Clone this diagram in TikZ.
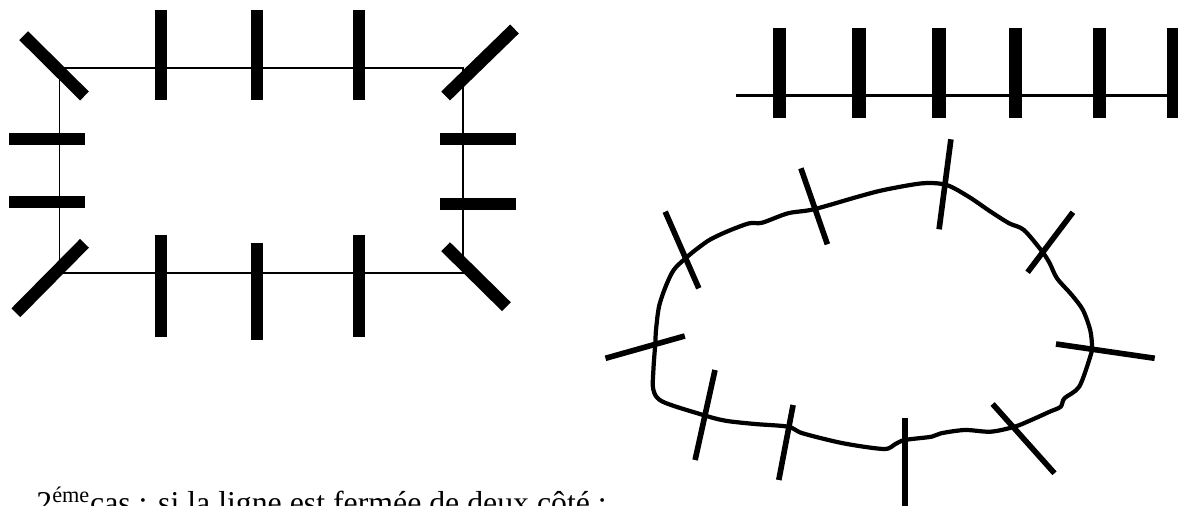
\documentclass[tikz,border=0pt]{standalone}
\usepackage{fontspec}
\setmainfont{Liberation Serif}
\usepackage{tikz}
\usetikzlibrary{calc}
\tikzset{
  % Frame lines
  frameline/.style={draw=black,line width=0.85pt},
  railline/.style={draw=black,line width=1.5pt},
  blobline/.style={draw=black,line width=2.4pt,line join=round},
  % Cross marks
  heavytick/.style={draw=black,line width=7.1pt},
  railtick/.style={draw=black,line width=7.7pt},
  lighttick/.style={draw=black,line width=3.2pt},
  % Caption
  captxt/.style={font=\fontsize{18.1}{21}\selectfont,inner sep=0pt,anchor=base west}
}
\begin{document}
\begin{tikzpicture}[x=0.02cm,y=-0.02cm]
  \useasboundingbox (0,0) rectangle (1178,506);
  \clip (0,0) rectangle (1178,506);

  % Rectangle with heavy marks
  \draw[frameline] (59.5,68) rectangle (463,273);
  \foreach \xx in {161,257,359} {
    \draw[heavytick] (\xx,10) -- (\xx,100);
  }
  \draw[heavytick] (161,235) -- (161,337);
  \draw[heavytick] (257,243) -- (257,340);
  \draw[heavytick] (359,235) -- (359,337);
  \foreach \yy in {139,202} {
    \draw[heavytick] (9,\yy) -- (84.5,\yy);
  }
  \draw[heavytick] (439.5,139) -- (515.5,139);
  \draw[heavytick] (439.5,204) -- (515.5,204);
  \draw[heavytick] (23.7,35.7) -- (84.5,96);
  \draw[heavytick] (445.6,96) -- (514.5,29);
  \draw[heavytick] (15.9,312.7) -- (84.5,243.3);
  \draw[heavytick] (445.6,246.7) -- (506.4,306.7);

  % Straight line with marks
  \draw[railline] (735.6,95.3) -- (1178,95.3);
  \foreach \xx in {779.5,859,939,1015.4,1099.4,1174} {
    \draw[railtick] (\xx,28.3) -- (\xx,118.3);
  }

  % Closed irregular line
  \draw[blobline] plot[smooth cycle,tension=0.5] coordinates {
    (946.5,185) (922.5,183.3) (883.8,190) (858,196.7) (813.8,209.3)
    (788,213.3) (762.2,222.7) (749.3,223.3) (729,230.7) (710.6,239.3)
    (697.7,248.3) (685.5,258.3) (673.7,270) (665.6,286.7) (659,306.7)
    (656,330) (655.3,343.3) (653.4,370) (653.4,390) (662.7,401.7)
    (703.2,415) (725.3,420.7) (754.8,424) (788,426.7) (802.7,433.3)
    (843.3,443.3) (883.8,449) (894.9,444.3) (904.8,440) (931.7,436.7)
    (941,433.3) (965,430) (990.7,431.7) (1014.7,426.7) (1031.3,420)
    (1049.7,411.7) (1060.7,406.7) (1064.4,398.3) (1079.2,386.7)
    (1090.2,356.7) (1092,346.7) (1090.2,330) (1082.9,310) (1071.8,295)
    (1057,278.3) (1049.7,263.3) (1042.3,251.7) (1023.9,230)
    (1009.1,223.3) (990.7,211.7) (968.6,196.7)};
  \draw[lighttick] (950.9,139.3) -- (939.1,229.3);
  \draw[lighttick] (800.9,168.3) -- (827.4,244.3);
  \draw[lighttick] (665.2,211.7) -- (698.8,288.3);
  \draw[lighttick] (1072.9,212.3) -- (1027.6,272.3);
  \draw[lighttick] (605.5,358.3) -- (684.8,336);
  \draw[lighttick] (1056,344) -- (1154.7,358.3);
  \draw[lighttick] (715,370) -- (695.1,460);
  \draw[lighttick] (793.1,405) -- (778.8,480);
  \draw[lighttick] (904.8,418.3) -- (904.8,506);
  \draw[lighttick] (992.6,404) -- (1054.5,473.3);

  % Caption
  \node[captxt] (cas) at (36,514) {2\textsuperscript{éme}cas : si la ligne est fermée de deux côté :};
\end{tikzpicture}
\end{document}
